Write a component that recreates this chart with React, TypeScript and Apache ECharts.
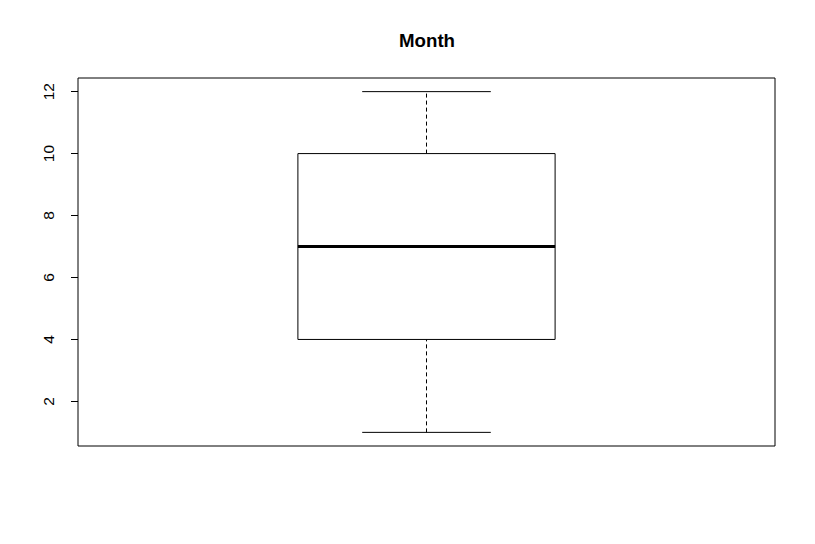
import React, { useEffect, useRef } from "react";
import * as echarts from "echarts";

const title = "Month";
const stats = [1, 4, 7, 10, 12]; // min, Q1, median, Q3, max
const yTicks = [2, 4, 6, 8, 10, 12];
const boxPosition = 1;

export default function App() {
  const ref = useRef<HTMLDivElement>(null);
  useEffect(() => {
    if (!ref.current) return;
    const chart = echarts.init(ref.current, null, { renderer: "svg" });
    const lo = stats[0];
    const hi = stats[4];
    const pad = (hi - lo) * 0.04;
    const halfBox = 0.1845;
    chart.setOption({
      animation: false,
      backgroundColor: "#ffffff",
      textStyle: { fontFamily: "Liberation Sans, Arial, sans-serif" },
      grid: {
        left: 78,
        top: 78,
        width: 697,
        height: 368,
        show: true,
        borderColor: "#000",
        borderWidth: 1,
        backgroundColor: "transparent",
      },
      graphic: [
        {
          type: "text",
          x: 427,
          y: 40,
          style: {
            text: title,
            fontSize: 18.7,
            fontWeight: "bold",
            fontFamily: "Liberation Sans, Arial, sans-serif",
            fill: "#000",
            textAlign: "center",
            textVerticalAlign: "middle",
          },
        },
      ],
      xAxis: {
        type: "value",
        min: 0.5,
        max: 1.5,
        show: false,
      },
      yAxis: {
        type: "value",
        min: lo - pad,
        max: hi + pad,
        axisLine: { show: false },
        splitLine: { show: false },
        axisTick: {
          show: true,
          length: 7,
          customValues: yTicks,
          lineStyle: { color: "#000", width: 1 },
        },
        axisLabel: {
          show: true,
          rotate: 90,
          customValues: yTicks,
          margin: 22,
          fontSize: 15.5,
          color: "#000",
          fontFamily: "Liberation Sans, Arial, sans-serif",
        },
      },
      series: [
        {
          type: "custom",
          data: [[boxPosition, ...stats]],
          encode: { x: 0, y: [1, 2, 3, 4, 5] },
          renderItem: (params: any, api: any) => {
            const x = api.value(0);
            const vMin = api.value(1);
            const q1 = api.value(2);
            const med = api.value(3);
            const q3 = api.value(4);
            const vMax = api.value(5);
            const pL = api.coord([x - halfBox, q3]);
            const pR = api.coord([x + halfBox, q1]);
            const sL = api.coord([x - halfBox / 2, vMin])[0];
            const sR = api.coord([x + halfBox / 2, vMin])[0];
            const cx = api.coord([x, vMin])[0];
            const yMin = api.coord([x, vMin])[1];
            const yMax = api.coord([x, vMax])[1];
            const yQ1 = api.coord([x, q1])[1];
            const yQ3 = api.coord([x, q3])[1];
            const yMed = api.coord([x, med])[1];
            const stroke = { stroke: "#000", lineWidth: 1, fill: "none" };
            const dashed = { stroke: "#000", lineWidth: 1, lineDash: [4, 3] };
            return {
              type: "group",
              children: [
                { type: "line", shape: { x1: cx, y1: yMin, x2: cx, y2: yQ1 }, style: dashed },
                { type: "line", shape: { x1: cx, y1: yQ3, x2: cx, y2: yMax }, style: dashed },
                { type: "line", shape: { x1: sL, y1: yMin, x2: sR, y2: yMin }, style: stroke },
                { type: "line", shape: { x1: sL, y1: yMax, x2: sR, y2: yMax }, style: stroke },
                {
                  type: "rect",
                  shape: { x: pL[0], y: pL[1], width: pR[0] - pL[0], height: pR[1] - pL[1] },
                  style: { stroke: "#000", lineWidth: 1, fill: "#fff" },
                },
                {
                  type: "line",
                  shape: { x1: pL[0], y1: yMed, x2: pR[0], y2: yMed },
                  style: { stroke: "#000", lineWidth: 3 },
                },
              ],
            };
          },
        },
      ],
    });
    return () => chart.dispose();
  }, []);
  return (
    <div
      ref={ref}
      style={{ position: "fixed", left: 0, top: 0, width: 815, height: 544 }}
    />
  );
}
